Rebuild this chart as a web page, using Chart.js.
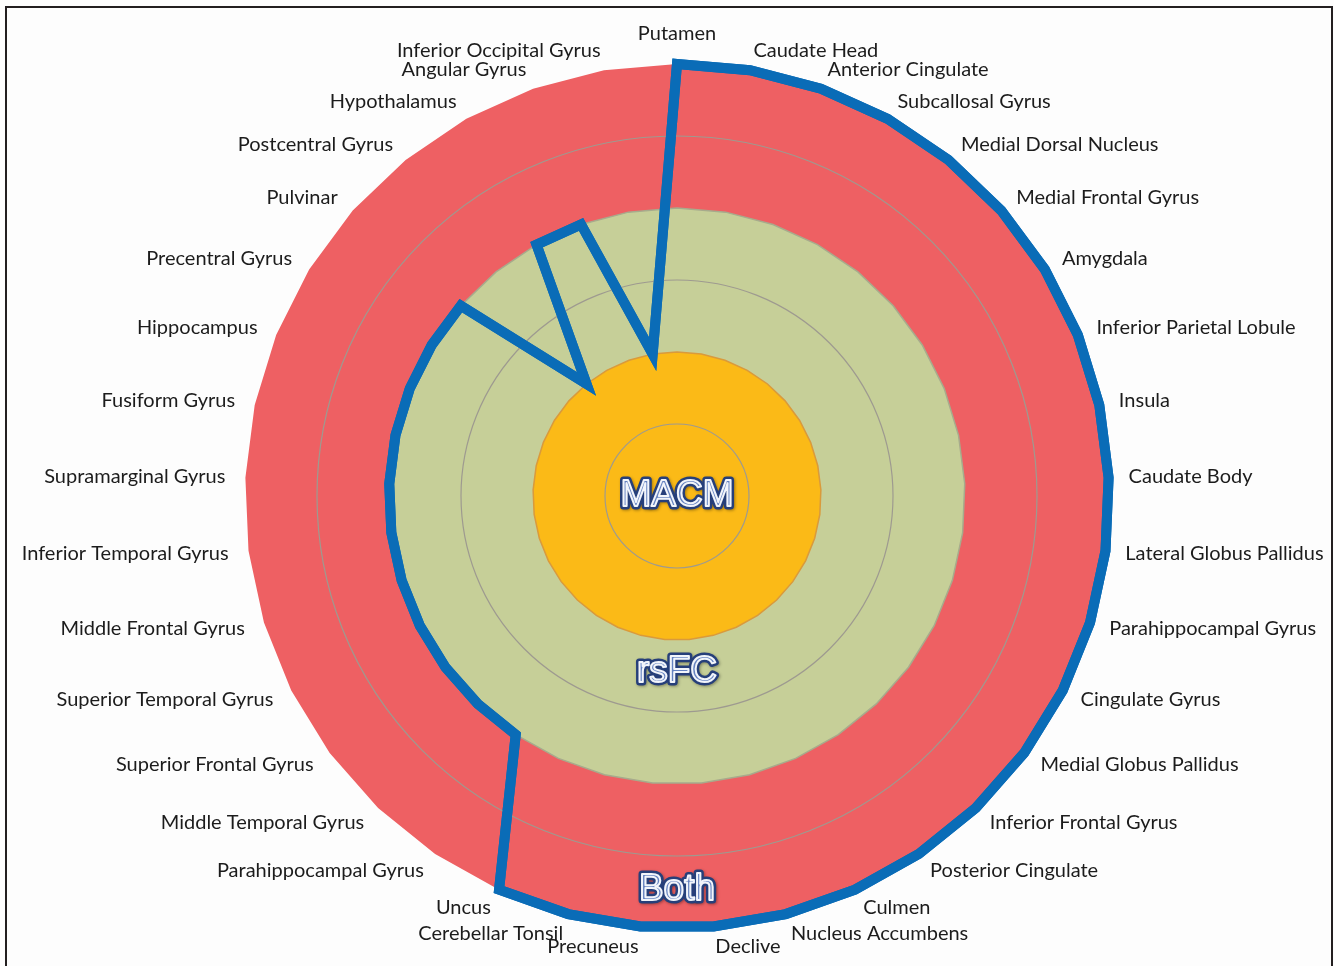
<!DOCTYPE html>
<html lang="en">
<head>
    <meta charset="UTF-8">
    <meta name="viewport" content="width=device-width, initial-scale=1.0">
    <title>MACM / rsFC regions</title>
    <script src="https://cdn.jsdelivr.net/npm/chart.js"></script>
    <style>
        html, body { margin: 0; padding: 0; background: #fff; }
        .frame { position: relative; width: 1334px; height: 966px; }
        .frame canvas { background: #fdfdfd; }
        /* thin black frame round the picture (bottom edge falls outside) */
        .frame::after {
            content: ''; position: absolute; left: 5px; top: 6px;
            width: 1324px; height: 990px; border: 2px solid #231f20;
            pointer-events: none;
        }
    </style>
</head>
<body>
    <div class="frame">
        <canvas id="regionsChart"></canvas>
    </div>

    <script>
        // Regions, clockwise from the top
        const regions = [
            'Putamen', 'Caudate Head', 'Anterior Cingulate', 'Subcallosal Gyrus',
            'Medial Dorsal Nucleus', 'Medial Frontal Gyrus', 'Amygdala',
            'Inferior Parietal Lobule', 'Insula', 'Caudate Body',
            'Lateral Globus Pallidus', 'Parahippocampal Gyrus', 'Cingulate Gyrus',
            'Medial Globus Pallidus', 'Inferior Frontal Gyrus', 'Posterior Cingulate',
            'Culmen', 'Nucleus Accumbens', 'Declive', 'Precuneus', 'Cerebellar Tonsil',
            'Uncus', 'Parahippocampal Gyrus', 'Middle Temporal Gyrus',
            'Superior Frontal Gyrus', 'Superior Temporal Gyrus', 'Middle Frontal Gyrus',
            'Inferior Temporal Gyrus', 'Supramarginal Gyrus', 'Fusiform Gyrus',
            'Hippocampus', 'Precentral Gyrus', 'Pulvinar', 'Postcentral Gyrus',
            'Hypothalamus', 'Angular Gyrus', 'Inferior Occipital Gyrus'
        ];

        // 2 = MACM, 4 = rsFC, 6 = both
        const regionLevel = [
            6, 6, 6, 6, 6, 6, 6, 6, 6, 6, 6, 6, 6, 6, 6, 6, 6, 6, 6, 6, 6, 6,
            4, 4, 4, 4, 4, 4, 4, 4, 4, 4, 4,
            2, 4, 4, 2
        ];

        // outer edge of each coloured band
        const bandNames = ['MACM', 'rsFC', 'Both'];
        const bandLevels = [2, 4, 6];
        const bandColors = ['#fbba17', '#c6cf98', '#ee6063'];
        const bandEdges = ['#d99a3c', '#a7ab8c', 'rgba(0,0,0,0)'];
        // where the band names sit, on the scale, straight down from the centre
        const bandNameLevels = [0, 2.44, 5.47];

        // faint circles drawn inside each band
        const ringTicks = [1, 3, 5];

        const CENTER_X = 677, CENTER_Y = 496, RADIUS = 432;
        const LABEL_GAP = 20;
        const LABEL_FONT = '20px Lato, "Open Sans", sans-serif';

        // keep the radar at the reference size and place
        function pinScale(scale) {
            scale.xCenter = CENTER_X;
            scale.yCenter = CENTER_Y;
            scale.drawingArea = RADIUS;
        }

        // region names: left/right of the anchor, centred on it vertically
        const regionLabels = {
            id: 'regionLabels',
            afterDraw(chart) {
                const r = chart.scales.r;
                const ctx = chart.ctx;
                const labels = chart.data.labels;
                ctx.save();
                ctx.font = LABEL_FONT;
                ctx.fillStyle = '#1c1c1c';
                labels.forEach((text, i) => {
                    const p = r.getPointPosition(i, r.drawingArea + LABEL_GAP);
                    const dx = p.x - r.xCenter;
                    if (Math.abs(dx) < 1) {
                        ctx.textAlign = 'center';
                        ctx.textBaseline = dx === 0 && p.y < r.yCenter ? 'bottom' : 'middle';
                    } else {
                        ctx.textAlign = dx > 0 ? 'left' : 'right';
                        ctx.textBaseline = 'middle';
                    }
                    ctx.fillText(text, p.x, p.y);
                });
                ctx.restore();
            }
        };

        // grid sits above the fills, so put the blue line and band names back on top
        const overlay = {
            id: 'overlay',
            afterDraw(chart) {
                chart.getDatasetMeta(0).controller.draw();

                const r = chart.scales.r;
                const ctx = chart.ctx;
                ctx.save();
                ctx.font = '37px "Liberation Sans", Arial, sans-serif';
                ctx.textAlign = 'center';
                ctx.textBaseline = 'middle';
                ctx.lineJoin = 'round';
                bandNames.forEach((name, i) => {
                    const x = r.xCenter;
                    const y = r.yCenter + r.getDistanceFromCenterForValue(bandNameLevels[i]);
                    ctx.shadowColor = 'rgba(0,0,0,0.35)';
                    ctx.shadowBlur = 3;
                    ctx.shadowOffsetX = 1;
                    ctx.shadowOffsetY = 1;
                    ctx.lineWidth = 7;
                    ctx.strokeStyle = '#263f7a';
                    ctx.strokeText(name, x, y);
                    ctx.shadowColor = 'rgba(0,0,0,0)';
                    ctx.fillStyle = '#6582c0';
                    ctx.fillText(name, x, y);
                    ctx.lineWidth = 2;
                    ctx.strokeStyle = '#f2f5fb';
                    ctx.strokeText(name, x, y);
                });
                ctx.restore();
            }
        };

        const bandDatasets = bandNames.map((name, i) => ({
            label: name,
            data: regions.map(() => bandLevels[i]),
            backgroundColor: bandColors[i],
            borderColor: bandEdges[i],
            borderWidth: 1.5,
            fill: 'origin',
            pointRadius: 0
        }));

        new Chart(document.getElementById('regionsChart'), {
            type: 'radar',
            data: {
                labels: regions,
                datasets: [{
                    label: 'Regions',
                    data: regionLevel,
                    borderColor: '#0a6cb7',
                    borderWidth: 10,
                    borderJoinStyle: 'miter',
                    fill: false,
                    pointRadius: 0
                }, ...bandDatasets]
            },
            options: {
                responsive: true,
                maintainAspectRatio: false,
                animation: false,
                layout: { padding: 0 },
                plugins: {
                    legend: { display: false },
                    tooltip: { enabled: false }
                },
                scales: {
                    r: {
                        min: 0,
                        max: 6,
                        ticks: { display: false, stepSize: 1 },
                        angleLines: { display: false },
                        grid: {
                            circular: true,
                            z: 1,
                            lineWidth: 1.2,
                            color: (c) => ringTicks.includes(c.tick.value) ? '#9e9a90' : 'rgba(0,0,0,0)'
                        },
                        pointLabels: { display: false },
                        afterFit: pinScale
                    }
                }
            },
            plugins: [overlay, regionLabels]
        });
    </script>
</body>
</html>
